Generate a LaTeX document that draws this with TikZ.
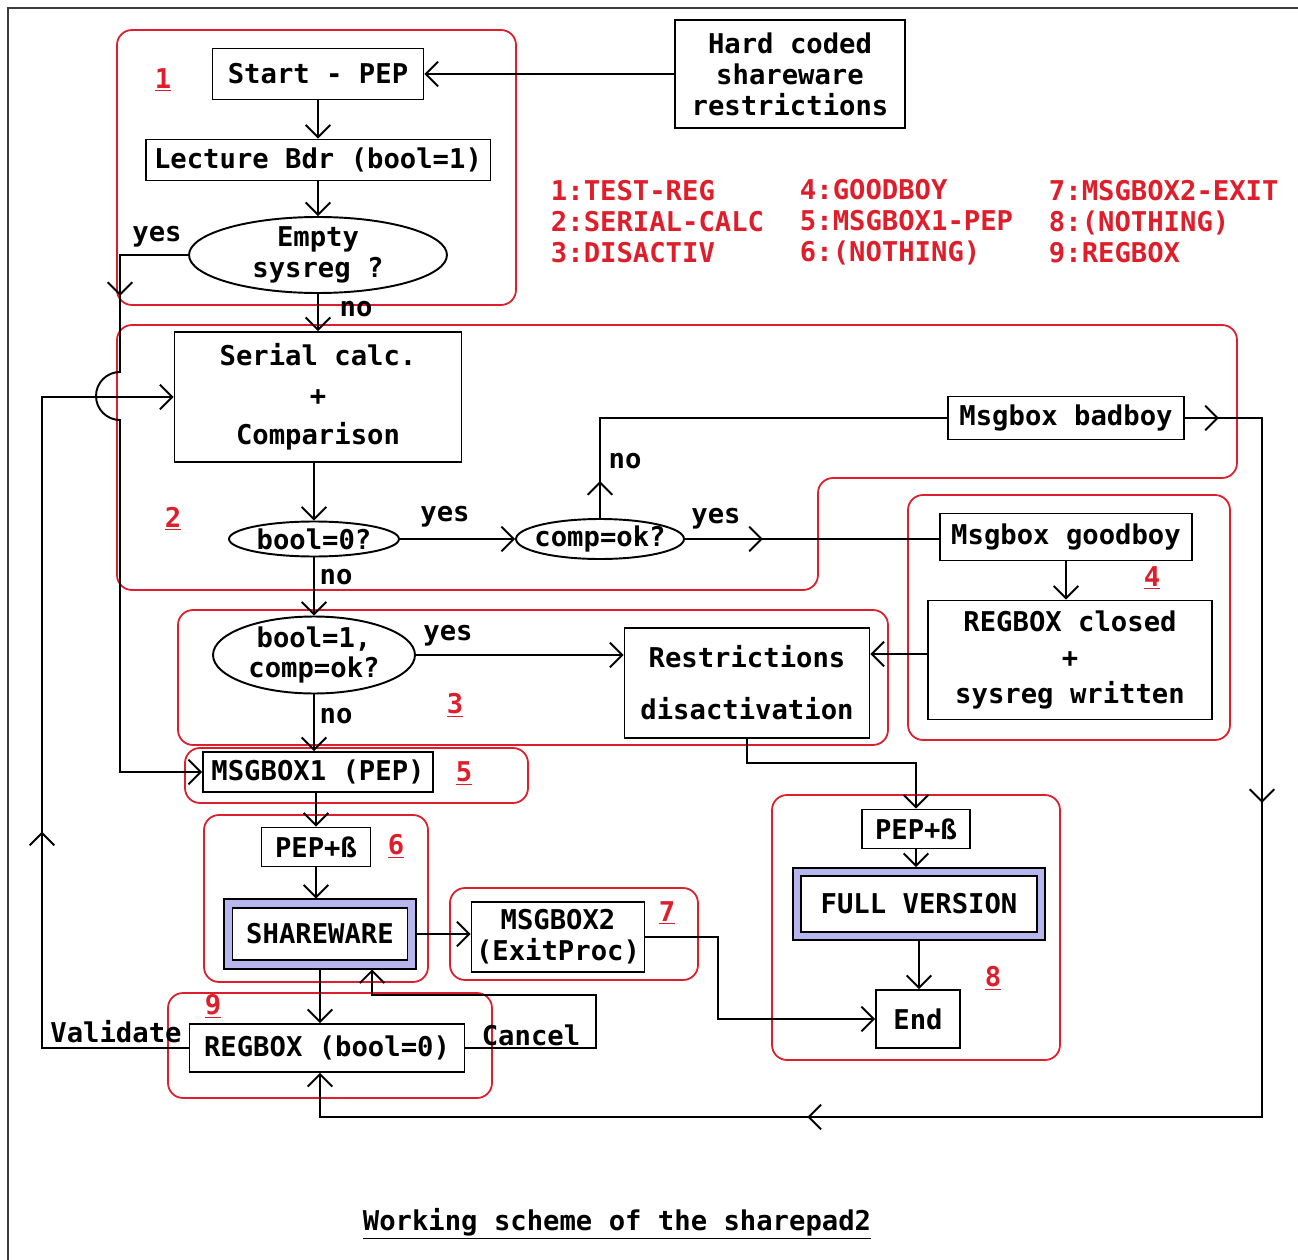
\documentclass[tikz,border=0pt]{standalone}
\usepackage{fontspec}
\setmonofont{DejaVu Sans Mono}
\usepackage{tikz}
\usetikzlibrary{arrows.meta}
\usetikzlibrary{shapes.geometric}
\usetikzlibrary{decorations.markings}
\definecolor{grpred}{RGB}{222,30,42}
\definecolor{shareblue}{RGB}{182,182,236}
\definecolor{framegray}{RGB}{60,60,60}

\begin{document}
\begin{tikzpicture}[x=0.02cm,y=-0.02cm,line width=1.1pt,inner sep=0pt,
  font=\ttfamily\bfseries\fontsize{15.5}{17.6}\selectfont,
  >={Straight Barb[length=7pt,width=14pt]},
  blk/.style={draw,rectangle,align=center},
  dec/.style={draw,ellipse},
  grp/.style={draw=grpred,line width=1pt,rounded corners=0.3cm},
  num/.style={text=grpred},
  dbl/.style={blk,double=shareblue,double distance=0.13cm,outer sep=0.1cm},
  midarr/.style={postaction={decorate},decoration={markings,mark=at position #1 with {\arrow{>}}}}]
\useasboundingbox (0,0) rectangle (1298,1260);
\draw[framegray,line width=1pt] (8,1260) -- (8,8) -- (1298,8);

% red groups
\draw[grp] (117,30) rectangle (516,305);
\draw[grp] (600,325) -- (1237,325) -- (1237,478) -- (818,478) -- (818,590) -- (117,590) -- (117,325) -- cycle;
\draw[grp] (178,610) rectangle (888,745);
\draw[grp] (908,495) rectangle (1230,740);
\draw[grp] (185,748) rectangle (528,803);
\draw[grp] (204,815) rectangle (428,982);
\draw[grp] (450,888) rectangle (698,980);
\draw[grp] (772,795) rectangle (1060,1060);
\draw[grp] (168,993) rectangle (492,1098);

\node[num] (n1) at (163,80) {\underline{1}};
\node[num] (n2) at (173,519) {\underline{2}};
\node[num] (n3) at (455,705) {\underline{3}};
\node[num] (n4) at (1152,578) {\underline{4}};
\node[num] (n5) at (464,774) {\underline{5}};
\node[num] (n6) at (396,846) {\underline{6}};
\node[num] (n7) at (667,913) {\underline{7}};
\node[num] (n8) at (993,978) {\underline{8}};
\node[num] (n9) at (213,1006) {\underline{9}};

\node[num,align=left,anchor=west] (leg1) at (550,222) {1:TEST-REG\\2:SERIAL-CALC\\3:DISACTIV};
\node[num,align=left,anchor=west] (leg2) at (799,222) {4:GOODBOY\\5:MSGBOX1-PEP\\6:(NOTHING)};
\node[num,align=left,anchor=west] (leg3) at (1048,222) {7:MSGBOX2-EXIT\\8:(NOTHING)\\9:REGBOX};

% boxes
\node[blk,minimum width=4.22cm,minimum height=1.02cm] (start) at (318,74) {Start - PEP};
\node[blk,minimum width=4.6cm,minimum height=2.16cm] (hard) at (790,74) {Hard coded\\shareware\\restrictions};
\node[blk,minimum width=6.9cm,minimum height=0.82cm] (lecture) at (318,160) {Lecture Bdr (bool=1)};
\node[dec,minimum width=5.16cm,minimum height=1.52cm,label={[align=center]center:Empty\\sysreg ?}] (empty) at (318,255) {};
\node[blk,minimum width=5.74cm,minimum height=2.6cm] (serial) at (318,397) {Serial calc.\\[5pt]+\\[5pt]Comparison};
\node[dec,minimum width=3.4cm,minimum height=0.7cm,label={center:{bool=0?}}] (bool0) at (314,539) {};
\node[dec,minimum width=3.36cm,minimum height=0.8cm,label={center:{comp=ok?}}] (comp) at (600,539) {};
\node[blk,minimum width=4.72cm,minimum height=0.86cm] (badboy) at (1066,418) {Msgbox badboy};
\node[blk,minimum width=5.04cm,minimum height=0.94cm] (goodboy) at (1066,537) {Msgbox goodboy};
\node[blk,minimum width=5.68cm,minimum height=2.38cm] (regclosed) at (1070,660) {REGBOX closed\\[3pt]+\\[3pt]sysreg written};
\node[dec,minimum width=4.04cm,minimum height=1.54cm,label={[align=center]center:{bool=1,\\comp=ok?}}] (bool1) at (314,655) {};
\node[blk,minimum width=4.9cm,minimum height=2.2cm] (restr) at (747,683) {Restrictions\\[12pt]disactivation};
\node[blk,minimum width=4.6cm,minimum height=0.8cm] (msg1) at (318,772) {MSGBOX1 (PEP)};
\node[blk,minimum width=2.18cm,minimum height=0.78cm] (pep1) at (316,847) {PEP+ß};
\node[dbl,minimum width=3.67cm,minimum height=1.22cm] (share) at (320,934) {SHAREWARE};
\node[blk,minimum width=3.46cm,minimum height=1.4cm] (msg2) at (558,937) {MSGBOX2\\(ExitProc)};
\node[blk,minimum width=2.16cm,minimum height=0.78cm] (pep2) at (916,829) {PEP+ß};
\node[dbl,minimum width=4.88cm,minimum height=1.28cm] (full) at (919,904) {FULL VERSION};
\node[blk,minimum width=1.68cm,minimum height=1.16cm] (end) at (918,1019) {End};
\node[blk,minimum width=5.5cm,minimum height=0.96cm] (regbox) at (327,1048) {REGBOX (bool=0)};

% labels
\node (yes1) at (157,237) {yes};
\node (no1) at (356,309) {no};
\node (yes2) at (445,517) {yes};
\node (no2) at (625,461) {no};
\node (yes3) at (716,519) {yes};
\node (no3) at (336,577) {no};
\node (yes4) at (448,636) {yes};
\node (no4) at (336,716) {no};
\node (valid) at (116,1032) {Validate};
\node (cancel) at (531,1035) {Cancel};
\node (title) at (617,1224) {\underline{Working scheme of the sharepad2}};

% connectors
\draw[->] (hard.west) -- (hard.west -| start.east);
\draw[->] (start.south) -- (lecture.north);
\draw[->] (lecture.south) -- (empty.north);
\draw[->] (empty.south) -- (serial.north);
\draw[->,midarr=2.18cm] (empty.west) -- (120,255) -- (120,372) arc[start angle=90,end angle=270,radius=0.48cm] |- (msg1.west);
\draw[->] (serial.south -| bool0.north) -- (bool0.north);
\draw[->] (bool0.east) -- (bool0.east -| comp.west);
\draw[->] (bool0.south) -- (bool1.north);
\draw[midarr=0.74cm] (comp.north) |- (badboy.west);
\draw[midarr=1.56cm] (comp.east) -- (comp.east -| goodboy.west);
\draw[->] (goodboy.south) -- (goodboy.south |- regclosed.north);
\draw[->] (regclosed.west |- 0,654) -- (restr.east |- 0,654);
\draw[->] (bool1.east) -- (bool1.east -| restr.west);
\draw[->] (bool1.south) -- (bool1.south |- msg1.north);
\draw[->] (restr.south) -- ++(0,24) -| (pep2.north);
\draw[->] (msg1.south -| pep1.north) -- (pep1.north);
\draw[->] (pep1.south) -- (pep1.south |- share.north);
\draw[->] (share.east) -- (share.east -| msg2.west);
\draw[->] (msg2.east) -- ++(73,0) |- (end.west);
\draw[->] (pep2.south) -- (pep2.south |- full.north);
\draw[->] (full.south) -- (full.south |- end.north);
\draw[->] (share.south) -- (share.south |- regbox.north);
\draw[->] (regbox.east) -- (596,1048) -- (596,995) -- (372,995) -- (share.south -| 372,0);
\draw[->,midarr=7.26cm] (regbox.west) -- (42,1048) |- (serial.west);
\draw[->,postaction={decorate},decoration={markings,
    mark=at position 0.68cm with {\arrow{>}},
    mark=at position 9.24cm with {\arrow{>}},
    mark=at position 24.62cm with {\arrow{>}}}]
  (badboy.east) -- (1262,418) -- (1262,1117) -| (share.south |- regbox.south);

\end{tikzpicture}
\end{document}
